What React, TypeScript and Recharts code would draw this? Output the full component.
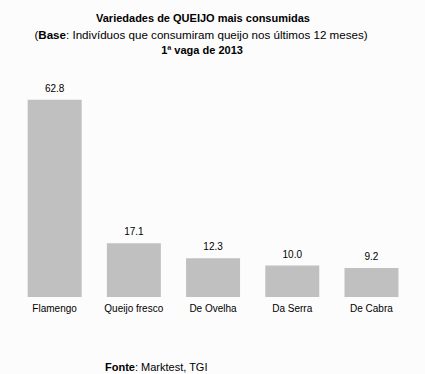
import React from 'react';
import { BarChart, Bar, XAxis, YAxis, LabelList } from 'recharts';

const categories = ['Flamengo', 'Queijo fresco', 'De Ovelha', 'Da Serra', 'De Cabra'];
const values = [62.8, 17.1, 12.3, 10.0, 9.2];

const data = categories.map((name, i) => ({ name, value: values[i] }));

const font = '"Liberation Sans", Arial, sans-serif';

export default function App() {
  return (
    <div style={{ position: 'absolute', left: 0, top: 0, width: 425, height: 374, background: '#fcfcfc', fontFamily: font, color: '#000' }}>
      <div style={{ position: 'absolute', left: 0, top: 11, width: 406, textAlign: 'center', fontSize: 11, fontWeight: 'bold', lineHeight: '14px' }}>
        Variedades de QUEIJO mais consumidas
      </div>
      <div style={{ position: 'absolute', left: 0, top: 28, width: 402, textAlign: 'center', fontSize: 11.6, lineHeight: '14px' }}>
        (<b>Base</b>: Indivíduos que consumiram queijo nos últimos 12 meses)
      </div>
      <div style={{ position: 'absolute', left: 0, top: 43, width: 404, textAlign: 'center', fontSize: 11, fontWeight: 'bold', lineHeight: '14px' }}>
        1ª vaga de 2013
      </div>
      <div style={{ position: 'absolute', left: 105, top: 360, fontSize: 11, lineHeight: '14px' }}>
        <b>Fonte</b>: Marktest, TGI
      </div>
      <BarChart
        width={425}
        height={374}
        data={data}
        margin={{ top: 77, right: 14, bottom: 47, left: 15 }}
        barCategoryGap="16%"
        style={{ position: 'absolute', left: 0, top: 0 }}
      >
        <XAxis
          dataKey="name"
          axisLine={false}
          tickLine={false}
          height={30}
          interval={0}
          tick={{ fontSize: 10, fill: '#000', fontFamily: font }}
        />
        <YAxis hide domain={[0, 70]} />
        <Bar dataKey="value" fill="#c0c0c0" isAnimationActive={false}>
          <LabelList
            dataKey="value"
            position="top"
            offset={8}
            formatter={(v: number) => v.toFixed(1)}
            style={{ fontSize: 10, fill: '#000', fontFamily: font }}
          />
        </Bar>
      </BarChart>
    </div>
  );
}
